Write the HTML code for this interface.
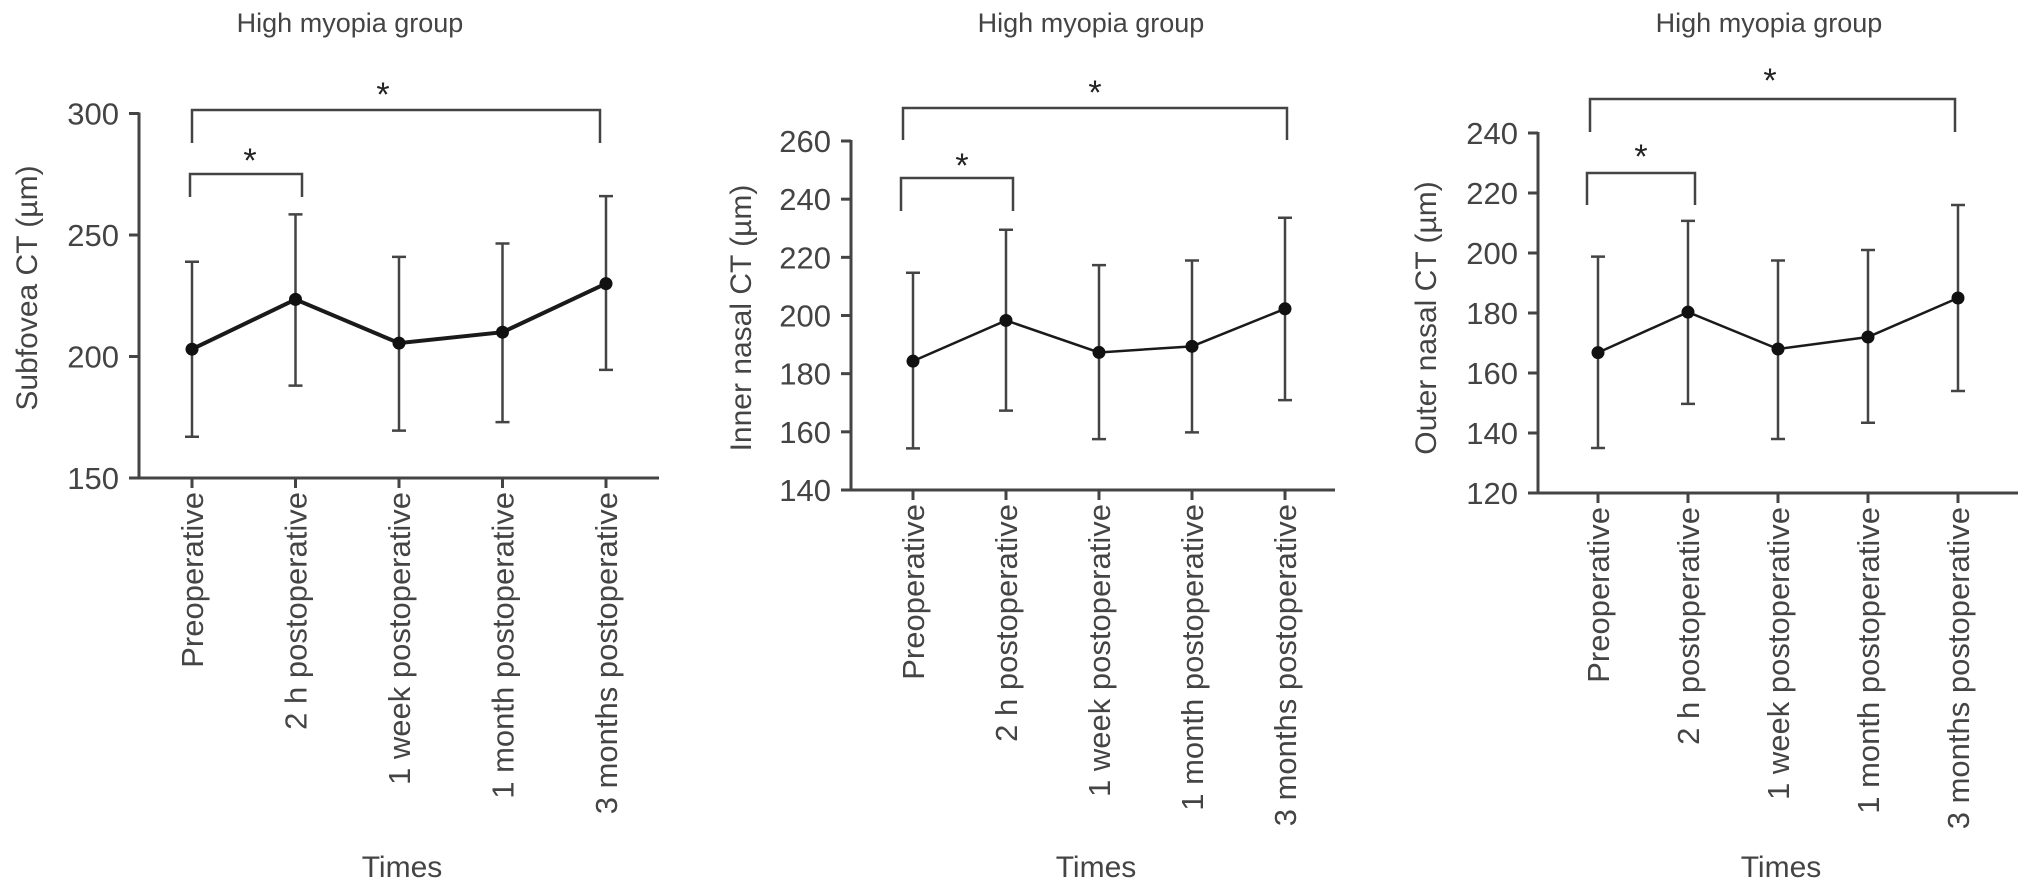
<!DOCTYPE html>
<html><head><meta charset="utf-8"><style>
html,body{margin:0;padding:0;background:#fff;}
svg{display:block;font-family:"Liberation Sans",Arial,sans-serif;}
</style></head><body>
<svg id="chart" width="2032" height="890" viewBox="0 0 2032 890" xmlns="http://www.w3.org/2000/svg"></svg>
<script>
const categories = ["Preoperative","2 h postoperative","1 week postoperative","1 month postoperative","3 months postoperative"];
const subfoveaMean = [203, 223.5, 205.5, 210, 230];
const subfoveaUpper = [239, 258.5, 241, 246.5, 266];
const subfoveaLower = [167, 188, 169.5, 173, 194.5];
const innerMean = [184.3, 198.3, 187.3, 189.4, 202.3];
const innerUpper = [214.7, 229.5, 217.3, 218.9, 233.6];
const innerLower = [154.3, 167.3, 157.5, 159.8, 170.9];
const outerMean = [166.8, 180.3, 168, 172, 185];
const outerUpper = [198.8, 210.7, 197.5, 201, 216];
const outerLower = [135, 149.7, 138, 143.4, 154];
const subfoveaTicks = [150, 200, 250, 300];
const innerTicks = [140, 160, 180, 200, 220, 240, 260];
const outerTicks = [120, 140, 160, 180, 200, 220, 240];

const NS = "http://www.w3.org/2000/svg";
const svg = document.getElementById("chart");
const INK = "#444";
function mk(tag, attrs, parent){
  const e = document.createElementNS(NS, tag);
  for (const k in attrs) e.setAttribute(k, attrs[k]);
  (parent || svg).appendChild(e);
  return e;
}
const panels = [
  {key:"subfovea", ylabel:"Subfovea CT (\u00b5m)", mean:subfoveaMean, up:subfoveaUpper, lo:subfoveaLower, ticks:subfoveaTicks,
   ax:139, axEnd:659, y0:478, y1:113.5, x0:192, dx:103.5, lw:4, title:350, ylx:26, yly:288,
   big:{l:192,r:600,y:110,dl:143,dr:143,sx:383,sy:91}, small:{l:190,r:302,y:174,d:197,sx:250,sy:157}},
  {key:"inner-nasal", ylabel:"Inner nasal CT (\u00b5m)", mean:innerMean, up:innerUpper, lo:innerLower, ticks:innerTicks,
   ax:851, axEnd:1335, y0:490, y1:141, x0:913, dx:93, lw:2.5, title:1091, ylx:740, yly:318,
   big:{l:903,r:1287,y:108,dl:140,dr:140,sx:1095,sy:89}, small:{l:901,r:1013,y:178,d:211,sx:962,sy:162}},
  {key:"outer-nasal", ylabel:"Outer nasal CT (\u00b5m)", mean:outerMean, up:outerUpper, lo:outerLower, ticks:outerTicks,
   ax:1538, axEnd:2018, y0:493, y1:133, x0:1598, dx:90, lw:2.5, title:1769, ylx:1425, yly:318,
   big:{l:1590,r:1955,y:99,dl:132,dr:132,sx:1770,sy:77}, small:{l:1587,r:1695,y:173,d:205,sx:1641,sy:153}}
];

panels.forEach(p=>{
  const g = mk("g",{});
  
  
  const tmin = p.ticks[0], tmax = p.ticks[p.ticks.length-1];
  const Y = v => p.y0 + (v - tmin) / (tmax - tmin) * (p.y1 - p.y0);
  const X = i => p.x0 + i * p.dx;

  const t = mk("text",{x:p.title,y:32,"text-anchor":"middle","font-size":27,fill:INK},g);
  t.textContent = "High myopia group";
  
  

  const ya = mk("line",{x1:p.ax,y1:p.y1-1,x2:p.ax,y2:p.y0+1.5,stroke:INK,"stroke-width":3},g);
  
  
  const xa = mk("line",{x1:p.ax-10,y1:p.y0,x2:p.axEnd,y2:p.y0,stroke:INK,"stroke-width":3},g);
  
  

  p.ticks.forEach(v=>{
    const tk = mk("line",{x1:p.ax-10,y1:Y(v),x2:p.ax,y2:Y(v),stroke:INK,"stroke-width":3},g);
    
    
    const tl = mk("text",{x:p.ax-20,y:Y(v)+11,"text-anchor":"end","font-size":31,fill:INK},g);
    tl.textContent = v;
    
    
  });
  categories.forEach((c,i)=>{
    const tk = mk("line",{x1:X(i),y1:p.y0,x2:X(i),y2:p.y0+10,stroke:INK,"stroke-width":3},g);
    
    
    const tl = mk("text",{x:0,y:0,"text-anchor":"end","font-size":31,fill:INK,
      transform:`translate(${X(i)+11},${p.y0+14}) rotate(-90)`},g);
    tl.textContent = c;
    
    
  });
  const xt = mk("text",{x:(p.ax+p.axEnd)/2+3,y:877,"text-anchor":"middle","font-size":30,fill:INK},g);
  xt.textContent = "Times";
  
  
  const yt = mk("text",{x:0,y:0,"text-anchor":"middle","font-size":30,fill:INK,
    transform:`translate(${p.ylx+11},${p.yly}) rotate(-90)`},g);
  yt.textContent = p.ylabel;
  
  

  categories.forEach((c,i)=>{
    const eb = mk("path",{d:`M${X(i)},${Y(p.lo[i])}V${Y(p.up[i])}M${X(i)-7},${Y(p.up[i])}H${X(i)+7}M${X(i)-7},${Y(p.lo[i])}H${X(i)+7}`,
      stroke:INK,"stroke-width":2.5,fill:"none"},g);
    
    
  });
  const pts = p.mean.map((v,i)=>`${X(i)},${Y(v)}`).join(" ");
  const ln = mk("polyline",{points:pts,fill:"none",stroke:"#1a1a1a","stroke-width":p.lw},g);
  
  
  p.mean.forEach((v,i)=>{
    const pt = mk("circle",{cx:X(i),cy:Y(v),r:6.5,fill:"#111"},g);
    
    
  });
  const b = p.big;
  const bb = mk("path",{d:`M${b.l},${b.dl}V${b.y}H${b.r}V${b.dr}`,stroke:INK,"stroke-width":2.5,fill:"none"},g);
  
  
  const bs = mk("text",{x:b.sx,y:b.sy+15,"text-anchor":"middle","font-size":34,fill:"#222"},g);
  bs.textContent = "*";
  
  
  const s = p.small;
  const sb = mk("path",{d:`M${s.l},${s.d}V${s.y}H${s.r}V${s.d}`,stroke:INK,"stroke-width":2.5,fill:"none"},g);
  
  
  const ss = mk("text",{x:s.sx,y:s.sy+15,"text-anchor":"middle","font-size":34,fill:"#222"},g);
  ss.textContent = "*";
  
  
});
</script>
</body></html>
